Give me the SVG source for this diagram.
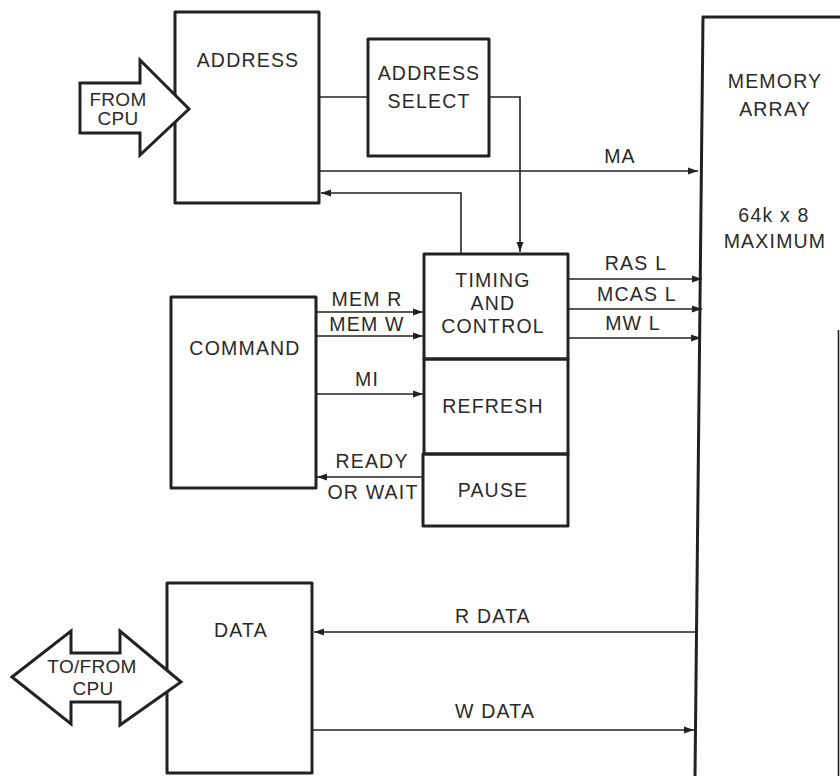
<svg xmlns="http://www.w3.org/2000/svg" width="840" height="776" viewBox="0 0 840 776">
<defs>
<style>
.box{fill:none;stroke:#222;stroke-width:3;stroke-linejoin:round}
.big{fill:#fff;stroke:#222;stroke-width:3;stroke-linejoin:miter}
.ln{fill:none;stroke:#222;stroke-width:1.6}
.t{font-family:"Liberation Sans",Arial,sans-serif;font-size:19.5px;fill:#2a2a2a;letter-spacing:1.2px;text-anchor:middle}
.s{text-anchor:start}
.sm{font-size:19px;letter-spacing:0.3px}
</style>
<marker id="ah" markerUnits="userSpaceOnUse" markerWidth="11" markerHeight="8" refX="10" refY="4" orient="auto">
<path d="M0,0.5 L10,4 L0,7.5 z" fill="#222"/>
</marker>
</defs>
<rect width="840" height="776" fill="#fff"/>

<g id="connectors">
<path class="ln" d="M319,97 H368"/>
<path class="ln" d="M489,97 H520 V252" marker-end="url(#ah)"/>
<path class="ln" d="M319,171 H698" marker-end="url(#ah)"/>
<path class="ln" d="M461,254 V193 H321" marker-end="url(#ah)"/>
<path class="ln" d="M316,312 H423" marker-end="url(#ah)"/>
<path class="ln" d="M316,336 H423" marker-end="url(#ah)"/>
<path class="ln" d="M316,394 H423" marker-end="url(#ah)"/>
<path class="ln" d="M424,477 H317" marker-end="url(#ah)"/>
<path class="ln" d="M568,279 H702" marker-end="url(#ah)"/>
<path class="ln" d="M568,309 H702" marker-end="url(#ah)"/>
<path class="ln" d="M568,338 H701" marker-end="url(#ah)"/>
<path class="ln" d="M696,632 H314" marker-end="url(#ah)"/>
<path class="ln" d="M312,730 H694" marker-end="url(#ah)"/>
<text class="t" x="620" y="163">MA</text>
<text class="t" x="367" y="306">MEM R</text>
<text class="t" x="367" y="331">MEM W</text>
<text class="t" x="367" y="386">MI</text>
<text class="t" x="372" y="468">READY</text>
<text class="t" x="373" y="499">OR WAIT</text>
<text class="t" x="636" y="270">RAS L</text>
<text class="t" x="637" y="301">MCAS L</text>
<text class="t" x="633" y="330">MW L</text>
<text class="t s" x="455" y="623">R DATA</text>
<text class="t s" x="455" y="718">W DATA</text>
</g>

<g id="address">
<rect class="box" x="175" y="12" width="144" height="191"/>
<text class="t" x="248" y="67">ADDRESS</text>
</g>

<g id="from-cpu">
<path class="big" d="M80,83 H140 V60 L189,109 L140,155 V133 H80 Z"/>
<text class="t sm" x="118" y="106">FROM</text>
<text class="t sm" x="118" y="125">CPU</text>
</g>

<g id="address-select">
<rect class="box" x="368" y="39" width="121" height="117"/>
<text class="t" x="429" y="80">ADDRESS</text>
<text class="t" x="429" y="108">SELECT</text>
</g>

<g id="memory-array">
<path class="box" d="M842,17 H703 L695,776"/>
<path class="ln" d="M838.5,330 V776" stroke-width="2"/>
<text class="t" x="775" y="88">MEMORY</text>
<text class="t" x="775" y="116">ARRAY</text>
<text class="t" x="774" y="222">64k x 8</text>
<text class="t" x="775" y="248">MAXIMUM</text>
</g>

<g id="timing-control">
<rect class="box" x="424" y="254" width="144" height="105"/>
<text class="t" x="493" y="287">TIMING</text>
<text class="t" x="493" y="310">AND</text>
<text class="t" x="493" y="333">CONTROL</text>
</g>

<g id="refresh">
<rect class="box" x="424" y="359" width="144" height="95"/>
<text class="t" x="493" y="413">REFRESH</text>
</g>

<g id="pause">
<rect class="box" x="423" y="454" width="145" height="72"/>
<text class="t" x="493" y="497">PAUSE</text>
</g>

<g id="command">
<rect class="box" x="171" y="297" width="145" height="191"/>
<text class="t" x="245" y="355">COMMAND</text>
</g>

<g id="data">
<rect class="box" x="167" y="583" width="145" height="190"/>
<text class="t" x="241" y="637">DATA</text>
</g>

<g id="to-from-cpu">
<path class="big" d="M12,677 L71,631 V653 H120 V631 L181,682 L120,725 V702 H71 V724 Z"/>
<text class="t sm" x="92" y="673">TO/FROM</text>
<text class="t sm" x="93" y="695">CPU</text>
</g>
</svg>
